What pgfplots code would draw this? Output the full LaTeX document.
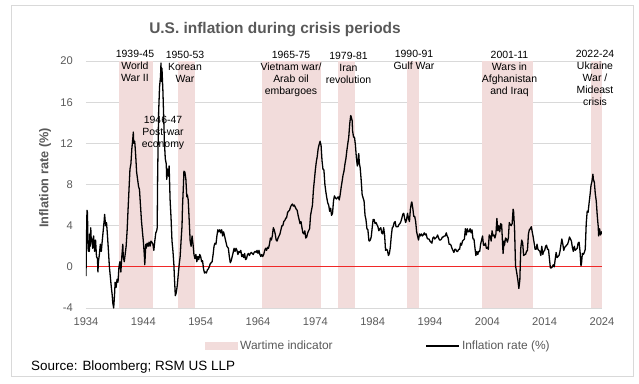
\documentclass[border=0pt]{standalone}
\usepackage{pgfplots}
\pgfplotsset{compat=1.18}
\usepackage{pgfplotstable}
\usepackage{fontspec}
\setmainfont{Liberation Sans}
\definecolor{warpink}{RGB}{242,220,219}
\definecolor{txtgray}{RGB}{89,89,89}
\definecolor{gridgray}{RGB}{217,217,217}
\definecolor{zeroRed}{RGB}{240,40,40}

\pgfplotstableread{
year val
1934.00 -0.9
1934.08 2.5
1934.17 5.5
1934.25 5.3
1934.33 3.0
1934.42 1.5
1934.50 2.5
1934.58 1.5
1934.67 3.2
1934.75 2.0
1934.83 3.8
1934.92 2.5
1935.00 2.8
1935.17 1.8
1935.33 3.0
1935.50 1.5
1935.67 2.6
1935.83 1.0
1936.00 0.8
1936.08 -0.5
1936.17 0.5
1936.33 1.2
1936.50 2.2
1936.67 1.5
1936.83 2.5
1937.00 3.5
1937.17 4.5
1937.25 5.1
1937.42 4.0
1937.58 4.3
1937.75 3.0
1937.92 1.5
1938.08 0.0
1938.25 -1.0
1938.42 -2.0
1938.58 -2.8
1938.67 -3.5
1938.83 -4.0
1939.00 -2.5
1939.08 -1.5
1939.25 -2.0
1939.42 -1.2
1939.58 -1.5
1939.75 0.0
1939.92 0.5
1940.08 -0.5
1940.25 1.0
1940.42 2.2
1940.50 1.0
1940.67 0.5
1940.83 1.2
1941.00 2.0
1941.17 3.5
1941.33 5.5
1941.50 7.5
1941.67 9.5
1941.83 10.0
1942.00 11.5
1942.17 12.5
1942.25 13.1
1942.33 12.0
1942.50 12.2
1942.67 10.8
1942.83 9.2
1943.00 8.5
1943.17 7.8
1943.33 7.5
1943.50 6.0
1943.67 4.5
1943.83 3.5
1944.00 2.5
1944.17 1.2
1944.25 0.2
1944.33 1.0
1944.42 2.2
1944.50 1.8
1944.67 2.3
1944.83 2.0
1945.00 2.4
1945.17 2.0
1945.33 2.5
1945.50 2.4
1945.67 2.2
1945.83 1.6
1946.00 2.5
1946.17 3.3
1946.33 3.5
1946.42 3.8
1946.50 9.0
1946.58 12.0
1946.67 15.0
1946.83 17.5
1947.00 18.5
1947.08 19.8
1947.17 18.0
1947.25 19.3
1947.42 17.0
1947.58 14.0
1947.67 12.2
1947.83 10.5
1948.00 10.0
1948.08 8.5
1948.25 9.5
1948.42 8.8
1948.50 9.8
1948.67 6.5
1948.83 4.8
1949.00 2.5
1949.17 1.5
1949.33 0.2
1949.42 -1.0
1949.58 -2.8
1949.75 -2.5
1949.92 -1.8
1950.08 -0.8
1950.25 0.2
1950.42 1.0
1950.58 2.5
1950.75 4.0
1950.83 5.8
1951.00 8.0
1951.08 9.3
1951.25 9.2
1951.42 8.5
1951.58 6.8
1951.67 7.0
1951.83 6.5
1952.00 4.5
1952.17 2.5
1952.33 2.0
1952.50 3.0
1952.67 2.2
1952.83 1.2
1953.00 0.8
1953.17 1.2
1953.33 0.5
1953.50 1.0
1953.67 0.7
1953.83 1.2
1954.00 1.0
1954.17 0.5
1954.33 0.6
1954.50 -0.2
1954.67 -0.6
1954.83 -0.5
1955.00 -0.6
1955.17 -0.3
1955.33 -0.2
1955.50 0.0
1955.67 0.3
1955.83 0.4
1956.00 0.5
1956.17 1.2
1956.33 2.0
1956.50 2.3
1956.67 2.2
1956.83 3.0
1957.00 3.6
1957.17 3.4
1957.33 3.6
1957.50 3.3
1957.67 3.6
1957.83 3.0
1958.00 3.4
1958.17 3.0
1958.33 2.6
1958.58 2.0
1958.83 1.8
1959.00 1.0
1959.17 0.4
1959.33 0.6
1959.50 1.0
1959.67 1.4
1959.83 1.8
1960.00 1.5
1960.17 1.8
1960.33 1.6
1960.50 1.2
1960.67 1.5
1960.83 1.4
1961.00 1.6
1961.17 1.0
1961.33 1.2
1961.50 0.9
1961.67 1.3
1961.83 0.7
1962.00 0.8
1962.17 1.2
1962.33 1.3
1962.50 1.1
1962.67 1.3
1962.83 1.4
1963.00 1.3
1963.17 1.2
1963.33 1.4
1963.50 1.5
1963.67 1.4
1963.83 1.6
1964.00 1.3
1964.17 1.6
1964.33 1.2
1964.50 1.0
1964.67 1.2
1964.83 1.0
1965.00 1.2
1965.17 1.6
1965.33 1.8
1965.50 1.6
1965.67 1.9
1965.83 1.8
1966.00 2.2
1966.17 2.8
1966.33 2.6
1966.50 3.0
1966.67 3.8
1966.83 3.6
1967.00 3.2
1967.17 2.6
1967.33 2.5
1967.50 2.8
1967.67 3.0
1967.83 3.2
1968.00 3.6
1968.17 4.0
1968.33 4.0
1968.50 4.4
1968.67 4.5
1968.83 4.7
1969.00 4.8
1969.17 5.3
1969.33 5.4
1969.50 5.5
1969.67 5.8
1969.83 6.0
1970.00 6.1
1970.17 5.9
1970.33 6.0
1970.50 5.8
1970.67 5.6
1970.83 5.5
1971.00 5.0
1971.17 4.6
1971.33 4.2
1971.50 4.4
1971.67 3.8
1971.83 3.3
1972.00 3.2
1972.17 3.5
1972.33 2.8
1972.50 2.9
1972.67 3.3
1972.83 3.5
1973.00 3.7
1973.17 5.0
1973.33 5.5
1973.50 6.0
1973.67 7.5
1973.83 8.4
1974.00 9.4
1974.17 10.2
1974.33 10.7
1974.50 11.5
1974.67 11.9
1974.83 12.2
1975.00 11.8
1975.17 10.3
1975.33 9.5
1975.50 9.4
1975.67 8.0
1975.83 7.3
1976.00 6.7
1976.17 6.2
1976.33 6.0
1976.50 5.4
1976.67 5.7
1976.83 5.0
1977.00 5.2
1977.17 6.4
1977.33 6.9
1977.50 6.7
1977.67 6.6
1977.83 6.7
1978.00 6.8
1978.17 6.5
1978.33 7.0
1978.50 7.7
1978.67 8.3
1978.83 8.9
1979.00 9.3
1979.17 10.0
1979.33 10.5
1979.50 11.3
1979.67 12.0
1979.83 12.6
1980.00 13.9
1980.17 14.7
1980.25 14.6
1980.42 14.2
1980.50 13.2
1980.67 12.6
1980.83 12.6
1981.00 11.8
1981.17 10.5
1981.33 9.8
1981.42 10.0
1981.50 10.8
1981.58 11.0
1981.67 10.1
1981.83 9.6
1982.00 8.4
1982.17 7.0
1982.33 6.7
1982.50 6.4
1982.67 5.0
1982.83 4.6
1983.00 3.7
1983.17 3.6
1983.33 2.6
1983.42 2.5
1983.58 2.6
1983.75 2.9
1983.92 3.8
1984.08 4.6
1984.25 4.6
1984.42 4.2
1984.58 4.3
1984.75 4.1
1984.92 3.9
1985.08 3.5
1985.25 3.7
1985.42 3.8
1985.58 3.3
1985.75 3.2
1985.92 3.8
1986.08 3.1
1986.25 1.6
1986.42 1.7
1986.58 1.6
1986.75 1.1
1986.92 1.3
1987.08 1.9
1987.25 3.0
1987.42 3.8
1987.58 3.9
1987.75 4.3
1987.92 4.4
1988.08 3.9
1988.25 3.9
1988.42 3.9
1988.58 4.1
1988.75 4.2
1988.92 4.4
1989.08 4.7
1989.25 5.1
1989.42 5.2
1989.58 4.7
1989.75 4.3
1989.92 4.6
1990.08 5.2
1990.25 4.7
1990.42 4.4
1990.58 5.6
1990.75 6.2
1990.83 6.3
1991.00 5.7
1991.17 4.9
1991.33 4.9
1991.50 4.4
1991.67 3.4
1991.83 3.0
1992.00 2.6
1992.17 3.2
1992.33 3.0
1992.50 3.2
1992.67 3.0
1992.83 3.1
1993.00 3.3
1993.17 3.1
1993.33 3.2
1993.50 2.8
1993.67 2.7
1993.83 2.7
1994.00 2.5
1994.17 2.4
1994.33 2.3
1994.50 2.8
1994.67 2.9
1994.83 2.7
1995.00 2.8
1995.17 2.9
1995.33 3.1
1995.50 2.8
1995.67 2.6
1995.83 2.6
1996.00 2.7
1996.17 2.9
1996.33 2.9
1996.50 3.0
1996.67 3.0
1996.83 3.3
1997.00 3.0
1997.17 2.8
1997.33 2.2
1997.50 2.2
1997.67 2.1
1997.83 1.8
1998.00 1.6
1998.17 1.4
1998.33 1.7
1998.50 1.7
1998.67 1.5
1998.83 1.5
1999.00 1.7
1999.17 1.7
1999.33 2.3
1999.50 2.1
1999.67 2.5
1999.83 2.6
2000.00 2.7
2000.17 3.7
2000.33 3.1
2000.50 3.7
2000.67 3.4
2000.83 3.4
2001.00 3.7
2001.17 3.3
2001.33 3.6
2001.50 2.7
2001.67 2.7
2001.83 1.9
2002.00 1.1
2002.17 1.5
2002.33 1.2
2002.50 1.5
2002.67 1.5
2002.83 2.2
2003.00 2.6
2003.17 3.0
2003.33 2.1
2003.50 2.1
2003.67 2.3
2003.83 1.8
2004.00 1.9
2004.17 1.7
2004.33 3.1
2004.50 3.0
2004.67 2.5
2004.83 3.5
2005.00 3.0
2005.17 3.1
2005.33 2.8
2005.50 3.2
2005.67 4.7
2005.83 3.5
2006.00 4.0
2006.17 3.4
2006.33 4.2
2006.50 4.1
2006.67 2.1
2006.75 1.3
2006.92 2.5
2007.00 2.1
2007.17 2.8
2007.33 2.7
2007.50 2.4
2007.67 2.8
2007.83 4.3
2008.00 4.1
2008.17 4.0
2008.33 4.2
2008.50 5.6
2008.58 5.4
2008.75 3.7
2008.92 0.1
2009.08 -0.4
2009.33 -1.3
2009.50 -2.1
2009.67 -1.3
2009.83 1.8
2010.00 2.6
2010.17 2.3
2010.33 1.1
2010.50 1.2
2010.67 1.2
2010.83 1.5
2011.00 1.6
2011.17 3.2
2011.33 3.6
2011.50 3.7
2011.67 3.9
2011.83 3.4
2012.00 2.9
2012.17 2.3
2012.33 1.7
2012.50 1.7
2012.67 2.2
2012.83 1.7
2013.00 1.6
2013.17 1.5
2013.33 1.1
2013.50 2.0
2013.67 1.2
2013.83 1.5
2014.00 1.6
2014.17 2.0
2014.33 2.1
2014.50 1.7
2014.67 1.7
2014.83 0.8
2015.00 -0.1
2015.17 -0.1
2015.33 0.0
2015.50 0.2
2015.67 0.0
2015.83 0.7
2016.00 1.4
2016.17 0.9
2016.33 1.0
2016.50 1.1
2016.67 1.5
2016.83 2.1
2017.00 2.7
2017.17 2.2
2017.33 1.6
2017.50 1.9
2017.67 2.0
2017.83 2.1
2018.00 2.2
2018.17 2.5
2018.33 2.9
2018.50 2.7
2018.67 2.5
2018.83 1.9
2019.00 1.5
2019.17 2.0
2019.33 1.6
2019.50 1.7
2019.67 1.8
2019.83 2.3
2020.00 2.4
2020.17 1.5
2020.33 0.1
2020.42 0.3
2020.58 1.3
2020.75 1.2
2020.92 1.4
2021.08 1.7
2021.25 4.2
2021.42 5.4
2021.58 5.3
2021.75 6.2
2021.92 7.0
2022.08 7.9
2022.25 8.3
2022.42 9.0
2022.50 8.5
2022.67 8.2
2022.83 7.1
2023.00 6.4
2023.17 5.0
2023.33 4.0
2023.42 3.0
2023.58 3.7
2023.75 3.1
2023.92 3.4
2024.00 3.2
}\inflation

\begin{document}
\begin{tikzpicture}
\begin{axis}[
  scale only axis,
  width=516bp, height=247bp,
  xmin=1934, xmax=2024, ymin=-4, ymax=20,
  xtick={1934,1944,...,2024},
  ytick={-4,0,...,20},
  /pgf/number format/assume math mode=true,
  /pgf/number format/1000 sep={},
  axis line style={draw=none},
  major tick length=0pt,
  ymajorgrids,
  grid style={color=gridgray, line width=0.8pt},
  tick label style={font=\fontsize{11.2}{13}\selectfont, text=txtgray},
  yticklabel style={anchor=east, inner sep=0pt, xshift=-13bp},
  xticklabel style={anchor=north, inner sep=0pt, yshift=-10bp},
  legend columns=2,
  legend style={draw=none, fill=none, at={(119/516,-38/247)}, anchor=west,
    font=\fontsize{12}{14}\selectfont, text=txtgray,
    inner sep=0pt,
    /tikz/every even column/.append style={column sep=91bp},
    /tikz/every odd column/.append style={column sep=0bp}},
]
\addplot[fill=warpink, draw=none,
  legend image code/.code={\fill[warpink] (0bp,-3.5bp) rectangle (33bp,3.5bp);}]
  coordinates {(1939.7,-4) (1939.7,20) (1945.7,20) (1945.7,-4)} -- cycle;
\addlegendentry{Wartime indicator}
\addplot[fill=warpink, draw=none, forget plot]
  coordinates {(1950.0,-4) (1950.0,20) (1953.0,20) (1953.0,-4)} -- cycle;
\addplot[fill=warpink, draw=none, forget plot]
  coordinates {(1964.7,-4) (1964.7,20) (1975.0,20) (1975.0,-4)} -- cycle;
\addplot[fill=warpink, draw=none, forget plot]
  coordinates {(1978.0,-4) (1978.0,20) (1980.9,20) (1980.9,-4)} -- cycle;
\addplot[fill=warpink, draw=none, forget plot]
  coordinates {(1990.0,-4) (1990.0,20) (1992.0,20) (1992.0,-4)} -- cycle;
\addplot[fill=warpink, draw=none, forget plot]
  coordinates {(2003.1,-4) (2003.1,20) (2011.9,20) (2011.9,-4)} -- cycle;
\addplot[fill=warpink, draw=none, forget plot]
  coordinates {(2022.0,-4) (2022.0,20) (2024.0,20) (2024.0,-4)} -- cycle;
\addplot[zeroRed, line width=1.2pt, forget plot] coordinates {(1934,0) (2024,0)};
\addplot[black, line width=1.3pt, line join=round,
  legend image code/.code={\draw[black, line width=1.3pt] (0bp,0bp) -- (33bp,0bp);}]
  table[x=year, y=val] {\inflation};
\addlegendentry{Inflation rate (\%)}
\end{axis}
% frame
\draw[gridgray, line width=0.8pt] (-75bp,-68bp) rectangle (547bp,303bp);
% title
\node[anchor=base, text=txtgray, font=\fontsize{15.5}{18}\selectfont\bfseries]
  at (189bp,274.7bp) {U.S. inflation during crisis periods};
% y label
\node[rotate=90, text=txtgray, font=\fontsize{12.8}{15}\selectfont\bfseries]
  at (-41bp,130bp) {Inflation rate (\%)};
% source
\node[anchor=base west, inner sep=0pt, font=\fontsize{13.5}{16}\selectfont]
  at (-55bp,-62bp) {Source: Bloomberg; RSM US LLP};
% annotations
\begin{scope}[every node/.style={anchor=north, align=center, inner sep=0pt,
    font=\fontsize{10.5}{12.1}\selectfont}]
\node at (49bp,258.5bp) {1939-45\\World\\War II};
\node at (77bp,192bp) {1946-47\\Post-war\\economy};
\node at (99bp,257.5bp) {1950-53\\Korean\\War};
\node at (205bp,257.5bp) {1965-75\\Vietnam war/\\Arab oil\\embargoes};
\node at (262.5bp,256.5bp) {1979-81\\Iran\\revolution};
\node at (328bp,258.5bp) {1990-91\\Gulf War};
\node at (423.5bp,257.5bp) {2001-11\\Wars in\\Afghanistan\\and Iraq};
\node at (509bp,258.5bp) {2022-24\\Ukraine\\War /\\Mideast\\crisis};
\end{scope}
\pgfresetboundingbox
\useasboundingbox (-86bp,-76bp) rectangle (553bp,308bp);
\end{tikzpicture}
\end{document}
